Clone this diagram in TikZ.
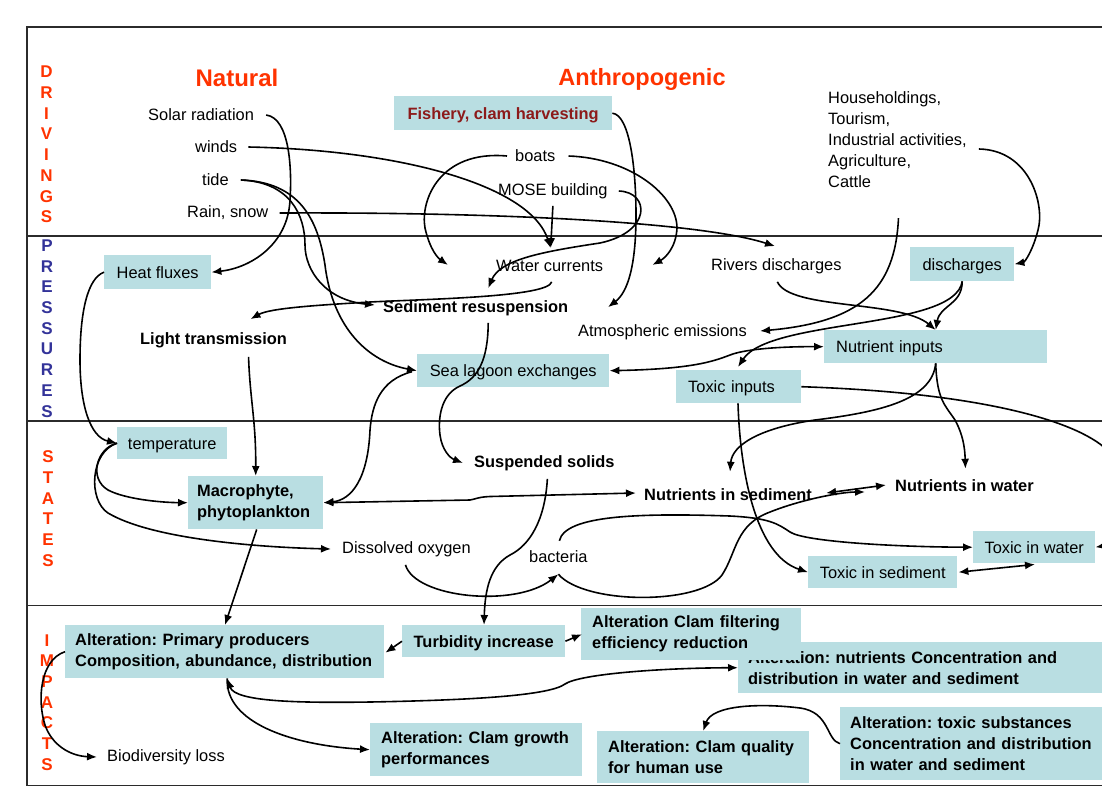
\documentclass[tikz,border=0pt]{standalone}
\usepackage{fontspec}
\setmainfont{Liberation Sans}
\usetikzlibrary{arrows.meta,calc}
\definecolor{boxc}{HTML}{B9DEE2}
\definecolor{redor}{HTML}{FF3300}
\definecolor{bluep}{HTML}{333399}
\definecolor{fishc}{HTML}{8C1A1A}
\definecolor{framec}{HTML}{2B2B2B}
\frenchspacing
\newcommand\myfs{\fontsize{16.4}{21}\selectfont}
\newcommand\sidefs{\fontsize{17}{20.7}\selectfont\bfseries}
\tikzset{
  txt/.style={inner sep=0pt, anchor=west, font=\myfs},
  btxt/.style={txt, font=\myfs\bfseries},
  cbox/.style 2 args={fill=boxc, inner sep=0pt, anchor=north west, font=\myfs, minimum width=#1pt, minimum height=#2pt, text height=11.8pt, text depth=0pt},
  lbox/.style n args={3}{fill=boxc, inner ysep=0pt, inner xsep=#3pt, anchor=north west, font=\myfs, text width=#1pt, minimum height=#2pt, align=left},
  side/.style={inner sep=0pt, align=center, font=\sidefs},
  ttl/.style={inner sep=0pt, text=redor},
  sep/.style={line width=1.4pt, draw=framec},
  conn/.style={line width=1.6pt, -{Latex[length=10pt,width=8pt]}},
  dconn/.style={line width=1.6pt, {Latex[length=10pt,width=8pt]}-{Latex[length=10pt,width=8pt]}},
}
\begin{document}
\begin{tikzpicture}[x=1pt,y=-1pt]
\clip (0,0) rectangle (1102,788);
\fill[white] (0,0) rectangle (1102,788);
% frame
\draw[sep] (1102,27) -- (27,27) -- (27,785.5) -- (1102,785.5);
\draw[sep] (27,236) -- (1102,236);
\draw[sep] (27,421) -- (1102,421);
\draw[sep] (27,605.5) -- (1102,605.5);
% side labels
\node[side, text=redor] (sdr) at (46.5,144.5) {D\\R\\I\\V\\I\\N\\G\\S};
\node[side, text=bluep] (spr) at (47,328.5) {P\\R\\E\\S\\S\\U\\R\\E\\S};
\node[side, text=redor] (sst) at (48,508.5) {S\\T\\A\\T\\E\\S};
\node[side, text=redor] (sim) at (47,702.5) {I\\M\\P\\A\\C\\T\\S};
% titles
\node[ttl, font=\fontsize{24}{28}\selectfont\bfseries] (nat) at (237,78) {Natural};
\node[ttl, font=\fontsize{23.5}{28}\selectfont\bfseries] (anth) at (642,79) {Anthropogenic};
% plain texts
\node[txt] (solar) at (148,115) {Solar radiation};
\node[txt] (winds) at (195,147) {winds};
\node[txt] (tide) at (202,180) {tide};
\node[txt] (rain) at (187,213) {Rain, snow};
\node[txt] (boats) at (515,156) {boats};
\node[txt] (mose) at (498,191) {MOSE building};
\node[txt, align=left] (house) at (828,140) {Householdings,\\Tourism,\\Industrial activities,\\Agriculture,\\Cattle};
\node[txt] (water) at (496,266) {Water currents};
\node[txt] (rivers) at (711,266) {Rivers discharges};
\node[txt] (atmo) at (578,332) {Atmospheric emissions};
\node[btxt] (light) at (140,340) {Light transmission};
\node[btxt] (sedres) at (383,308) {Sediment resuspension};
\node[btxt] (susp) at (474,463) {Suspended solids};
\node[btxt] (nutsed) at (644,495) {Nutrients in sediment};
\node[btxt] (nutwat) at (895,486) {Nutrients in water};
\node[txt] (dox) at (342,549) {Dissolved oxygen};
\node[txt] (bact) at (529,557) {bacteria};
\node[txt] (bio) at (107,757) {Biodiversity loss};
% boxes
\node[cbox={218}{34}, font=\myfs\bfseries, text=fishc] (fish) at (394,96) {Fishery, clam harvesting};
\node[cbox={107}{34}] (heat) at (104,255) {Heat fluxes};
\node[cbox={192}{33}] (sealag) at (417,354) {Sea lagoon exchanges};
\node[cbox={104}{34}] (disch) at (910,247) {discharges};
\node[lbox={199}{33}{12}, text height=11.8pt, text depth=0pt] (nutin) at (824,330) {Nutrient inputs};
\node[lbox={101}{33}{12}, text height=11.8pt, text depth=0pt] (toxin) at (676,370) {Toxic inputs};
\node[cbox={110}{32}] (temp) at (117,427) {temperature};
\node[lbox={117}{53}{9}, font=\myfs\bfseries] (macro) at (188,476) {Macrophyte,\\phytoplankton};
\node[cbox={122}{32}] (toxwat) at (973,531) {Toxic in water};
\node[cbox={149}{32}] (toxsed) at (808,556) {Toxic in sediment};
\node[lbox={299}{53}{10}, font=\myfs\bfseries] (prim) at (65,625) {Alteration: Primary producers\\Composition, abundance, distribution};
\node[cbox={163}{32}, font=\myfs\bfseries] (turb) at (402,625) {Turbidity increase};
\node[lbox={380}{51}{10}, font=\myfs\bfseries] (nutalt) at (738,642) {Alteration: nutrients Concentration and\\distribution in water and sediment};
\node[lbox={198}{52}{11}, font=\myfs\bfseries] (clamfilt) at (581,608) {Alteration Clam filtering\\efficiency reduction};
\node[lbox={190}{53}{11}, font=\myfs\bfseries] (clamgr) at (370,723) {Alteration: Clam growth\\performances};
\node[lbox={190}{52}{11}, font=\myfs\bfseries] (clamq) at (597,731) {Alteration: Clam quality\\for human use};
\node[lbox={280}{73}{10}, font=\myfs\bfseries] (toxalt) at (840,707) {Alteration: toxic substances\\Concentration and distribution\\in water and sediment};
% connectors
\draw[conn] ($(solar.east)+(12,0)$) .. controls (290,118) and (292,170) .. (290,200) .. controls (288,245) and (250,268) .. (heat.east);
\draw[conn] ($(winds.east)+(11,0)$) .. controls (400,150) and (530,185) .. ($(water.north)+(1,-12)$);
\draw[conn] ($(mose.south)+(0,7)$) -- ($(water.north)+(1,-12)$);
\draw[conn] ($(mose.east)+(11,0)$) .. controls (650,192) and (652,232) .. (600,243) .. controls (540,252) and (500,260) .. ($(sedres.north)+(12.5,-12)$);
\draw[conn] (fish.east) .. controls (630,115) and (636,170) .. (636,215) .. controls (636,265) and (628,292) .. ($(atmo.north west)+(30,-17)$);
\draw[conn] ($(boats.west)+(-8,0)$) .. controls (440,150) and (420,200) .. (425,228) .. controls (430,250) and (438,258) .. ($(water.west)+(-48,-1)$);
\draw[conn] ($(boats.east)+(13,0)$) .. controls (630,158) and (677,195) .. (677,228) .. controls (676,248) and (665,258) .. ($(water.east)+(49,-1)$);
\draw[conn] ($(rain.east)+(11,0)$) .. controls (500,212) and (700,222) .. ($(rivers.north west)+(64,-12)$);
\draw[conn] ($(house.east)+(12,9)$) .. controls (1030,150) and (1045,205) .. (1038,230) .. controls (1033,250) and (1025,262) .. (disch.east);
\draw[conn] ($(house.south)+(1,30)$) .. controls (895,290) and (860,322) .. ($(atmo.east)+(13,-1)$);
\draw[conn] ($(rivers.south)+(1,8)$) .. controls (790,310) and (900,300) .. (nutin.north);
\draw[conn] (disch.south) .. controls (962,305) and (940,305) .. (nutin.north);
\draw[conn] (disch.south) .. controls (955,330) and (770,318) .. ($(toxin.north west)+(62,-3)$);
\draw[dconn] (sealag.east) .. controls (690,369) and (712,362) .. (730,355) .. controls (748,348) and (790,346.5) .. (nutin.west);
\draw[conn] ($(tide.east)+(12,0)$) .. controls (290,182) and (305,215) .. (305,245) .. controls (305,270) and (325,300) .. ($(sedres.west)+(-8,-3)$);
\draw[conn] ($(tide.east)+(12,0)$) .. controls (300,182) and (318,220) .. (325,265) .. controls (333,330) and (370,362) .. (sealag.west);
\draw[conn] ($(water.south)+(2,10)$) .. controls (548,297) and (430,299) .. (370,302) .. controls (320,305) and (270,308) .. ($(light.north)+(37,-13)$);
\draw[conn] ($(sedres.south)+(12.5,7)$) .. controls (488,360) and (478,378) .. (460,386) .. controls (440,395) and (438,420) .. (440,435) .. controls (442,450) and (450,458) .. ($(susp.west)+(-11,0)$);
\draw[conn] ($(sealag.west)+(-5,1)$) .. controls (380,380) and (372,405) .. (370,430) .. controls (368,478) and (352,500) .. (macro.east);
\draw[dconn] (macro.east) -- (470,500) .. controls (476,499) and (478,497) .. (490,496.5) -- ($(nutsed.west)+(-8,-2)$);
\draw[conn] (heat.west) .. controls (88,278) and (80,310) .. (80,360) .. controls (80,405) and (90,437) .. (temp.west);
\draw[conn] (temp.west) .. controls (97,448) and (88,478) .. (108,490) .. controls (125,499) and (160,502.5) .. (macro.west);
\draw[conn] (temp.west) .. controls (90,452) and (88,500) .. (108,513) .. controls (150,538) and (250,547) .. ($(dox.west)+(-11,0)$);
\draw[conn] ($(light.south)+(35,9)$) .. controls (250,400) and (256,420) .. (macro.north);
\draw[conn] ($(macro.south)+(1,0)$) -- ($(prim.north west)+(160,0)$);
\draw[conn] ($(dox.south)+(-1,8)$) .. controls (415,598) and (515,608) .. ($(bact.south)+(0,11)$);
\draw[conn] ($(bact.south)+(0,11)$) .. controls (585,605) and (700,605) .. (722,575) .. controls (737,552) and (735,525) .. (770,512) .. controls (800,500) and (840,492) .. ($(nutwat.west)+(-30,6)$);
\draw[conn] ($(bact.north)+(1,-10)$) .. controls (565,515) and (640,513) .. (730,516) .. controls (770,518) and (778,524) .. (790,532) .. controls (805,542) and (900,547) .. (toxwat.west);
\draw[conn] (nutin.south) .. controls (932,400) and (880,412) .. (815,420) .. controls (760,428) and (732,445) .. ($(nutsed.north)+(2,-17)$);
\draw[conn] (nutin.south) .. controls (937,400) and (945,405) .. (955,420) .. controls (965,438) and (965,455) .. ($(nutwat.north)+(1,-11)$);
\draw[conn] (toxin.east) .. controls (960,392) and (1060,415) .. (1100,444) .. controls (1140,475) and (1140,540) .. (toxwat.east);
\draw[conn] ($(toxin.south west)+(62,0)$) .. controls (740,470) and (755,555) .. (toxsed.west);
\draw[dconn] ($(toxsed.east)+(1,0)$) -- ($(toxwat.south west)+(62,1)$);
\draw[dconn] ($(nutsed.east)+(14,-2)$) -- ($(nutwat.west)+(-9,-1)$);
\draw[conn] ($(susp.south)+(3,8)$) .. controls (545,520) and (530,545) .. (510,555) .. controls (490,566) and (485,590) .. ($(turb.north west)+(82,0)$);
\draw[conn] (turb.west) -- ($(prim.east)+(1,1)$);
\draw[conn] (turb.east) -- ($(clamfilt.west)+(1,0)$);
\draw[dconn] ($(prim.south)+(2.5,0)$) .. controls (235,702) and (300,703) .. (370,702) .. controls (480,700) and (550,695) .. (565,684) .. controls (580,674) and (660,668) .. (nutalt.west);
\draw[conn] ($(prim.south)+(2.5,0)$) .. controls (225,722) and (290,745) .. (clamgr.west);
\draw[conn] (prim.west) .. controls (40,660) and (37,700) .. (45,725) .. controls (52,745) and (70,756) .. ($(bio.west)+(-10,0)$);
\draw[conn] (toxalt.west) .. controls (826,740) and (830,712) .. (800,708) .. controls (760,703) and (712,705) .. (clamq.north);
\end{tikzpicture}
\end{document}
